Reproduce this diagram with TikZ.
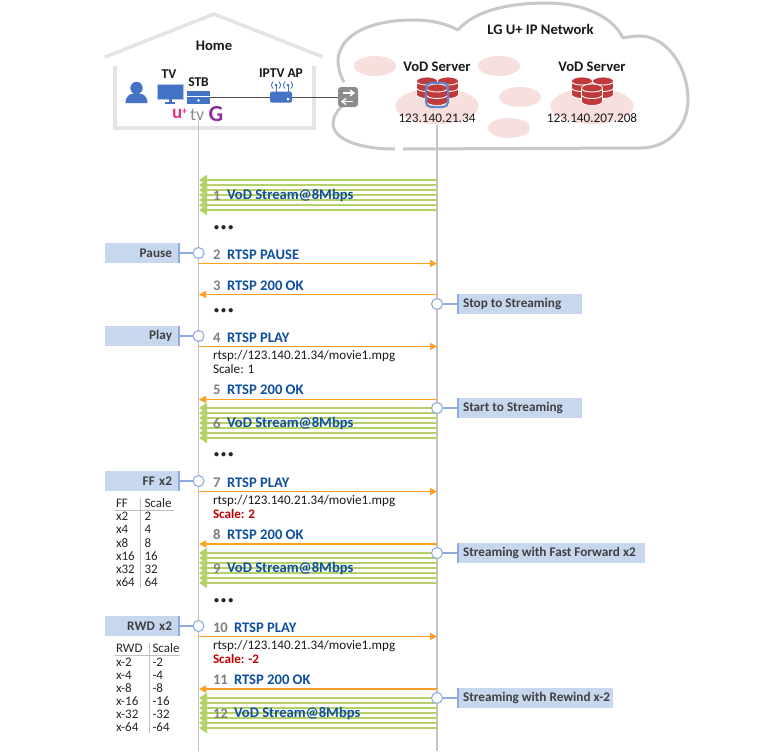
\documentclass[tikz,border=0pt]{standalone}
\usepackage{fontspec}
\setmainfont{Carlito}
\usetikzlibrary{arrows.meta,shapes.geometric}
\definecolor{msgblue}{HTML}{0F4FA0}
\definecolor{numgray}{HTML}{7F7F7F}
\definecolor{orangeline}{HTML}{FF9E1F}
\definecolor{greenline}{HTML}{B3D267}
\definecolor{boxfill}{HTML}{C6D7EE}
\definecolor{boxedge}{HTML}{8FAADC}
\definecolor{iconblue}{HTML}{4472C4}
\definecolor{pinkfill}{HTML}{F6DFDD}
\definecolor{cloudgray}{HTML}{C8C8C8}
\definecolor{housegray}{HTML}{E4E4E4}
\definecolor{dbred}{HTML}{C0393B}
\definecolor{lifegray}{HTML}{C4C4C4}
\definecolor{logopink}{HTML}{E6338A}
\definecolor{logopurple}{HTML}{8A2F9A}
\tikzset{
  every node/.style={inner sep=0pt,outer sep=0pt},
  head/.style={font=\fontsize{14.6}{16}\selectfont\bfseries,text=black!90},
  homehead/.style={font=\fontsize{13.5}{15}\selectfont\bfseries,text=black!90},
  ip/.style={font=\fontsize{13.2}{15}\selectfont,text=black!90},
  num/.style={anchor=west,yshift=-0.8pt,font=\fontsize{14.6}{16}\selectfont\bfseries,text=numgray},
  msg/.style={anchor=west,yshift=-0.8pt,font=\fontsize{14.6}{16}\selectfont\bfseries,text=msgblue},
  subtxt/.style={anchor=west,font=\fontsize{13.1}{15}\selectfont,text=black!90},
  redtxt/.style={anchor=west,font=\fontsize{13.1}{15}\selectfont\bfseries,text=red!75!black},
  tbl/.style={anchor=west,font=\fontsize{13}{15}\selectfont,text=black!85},
  dotrow/.style={anchor=west,font=\fontsize{10}{12}\selectfont\bfseries,text=black!85},
  lblbox/.style={fill=boxfill,minimum height=20.5pt,font=\fontsize{13.2}{15}\selectfont\bfseries,text=black!75},
  ringmark/.style={circle,draw=boxedge,fill=white,line width=1.1pt,minimum size=11pt},
  flow/.style={draw=orangeline,line width=1.5pt,-{Triangle[length=7pt,width=7pt]}},
  stream/.style={draw=greenline,line width=2.7pt,-{Triangle[length=8pt,width=10pt]},shorten >=-1pt},
  tie/.style={draw=boxedge,line width=1.1pt},
  life/.style={draw=lifegray,line width=1.1pt},
  cloudline/.style={draw=cloudgray,line width=3pt},
  houseline/.style={draw=housegray,line width=3.5pt},
  blob/.style={ellipse,fill=pinkfill}
}
% database cylinder: centre x, top y
\newcommand{\dbcyl}[2]{%
  \filldraw[fill=dbred,draw=white,line width=0.8pt] (#1-10.5,#2+4) -- (#1-10.5,#2+17.5) arc[start angle=180,end angle=0,x radius=10.5,y radius=4] -- (#1+10.5,#2+4) arc[start angle=0,end angle=-180,x radius=10.5,y radius=4] -- cycle;
  \draw[white,line width=0.9pt] (#1-10.5,#2+4.5) arc[start angle=180,end angle=0,x radius=10.5,y radius=3.5];
  \draw[white,line width=0.9pt] (#1-10.5,#2+11) arc[start angle=180,end angle=0,x radius=10.5,y radius=3.5];
}
% stream: id, top y
\newcommand{\streamrow}[2]{%
  \foreach \k in {0,...,6}{%
    \coordinate (#1r\k) at (437,#2+5*\k);
    \coordinate (#1l\k) at (200,#2+5*\k);
    \draw[stream] (#1r\k) -- (#1l\k);
  }%
}
\newcommand{\flowrow}[4]{% id, y, direction start, end
  \coordinate (#1a) at (#3,#2);
  \coordinate (#1b) at (#4,#2);
  \draw[flow] (#1a) -- (#1b);
}
\newcommand{\tripledot}{\textbullet\hspace{2.2pt}\textbullet\hspace{2.2pt}\textbullet}
\begin{document}
\begin{tikzpicture}[x=1pt,y=-1pt]
\useasboundingbox (0,0) rectangle (760,753);
\fill[white] (0,0) rectangle (760,753);

% house
\coordinate (roofL) at (105,57); \coordinate (roofT) at (214,14); \coordinate (roofR) at (323,57);
\draw[houseline,line join=miter] (roofL) -- (roofT) -- (roofR);
\coordinate (wallA) at (115,66); \coordinate (wallB) at (115,128); \coordinate (wallC) at (314,128); \coordinate (wallD) at (314,66);
\draw[houseline] (wallA) -- (wallB) -- (wallC) -- (wallD);
\node[homehead,font=\fontsize{14.6}{16}\selectfont\bfseries] (home) at (214,45.5) {Home};

% cloud
\draw[cloudline,line join=round] (403,149) -- (640,148)
  .. controls (670,148) and (688,125) .. (688,100)
  .. controls (688,65) and (665,36) .. (640,36)
  .. controls (633,36) and (628,37) .. (623,38)
  .. controls (610,12) and (575,3) .. (547,3)
  .. controls (510,3) and (475,10) .. (458,30)
  .. controls (445,23) and (430,20) .. (413,20)
  .. controls (375,20) and (340,32) .. (338,60)
  .. controls (338,68) and (340,75) .. (344,82);
\draw[cloudline,line join=round] (342,106)
  .. controls (336,112) and (333,118) .. (333,124)
  .. controls (334,140) and (360,149) .. (395,149);

% pink blobs
\node[blob,minimum width=42pt,minimum height=20pt] (b1) at (375,66) {};
\node[blob,minimum width=42pt,minimum height=20pt] (b2) at (499,66) {};
\node[blob,minimum width=42pt,minimum height=20pt] (b3) at (520,97) {};
\node[blob,minimum width=42pt,minimum height=20pt] (b4) at (509,128) {};
\node[blob,minimum width=83pt,minimum height=36pt] (b5) at (437,106) {};
\node[blob,minimum width=83pt,minimum height=36pt] (b6) at (592,106) {};

% titles in the cloud
\node[head] (net) at (540.5,29.5) {LG U+ IP Network};
\node[head] (vod1) at (437,66.5) {VoD Server};
\node[head] (vod2) at (592,66.5) {VoD Server};
\node[ip] (ip1) at (437,118) {123.140.21.34};
\node[ip] (ip2) at (592,118) {123.140.207.208};

% databases
\dbcyl{427}{77}\dbcyl{448}{77}\dbcyl{437}{84}
\draw[iconblue!85!white,line width=2.2pt,rounded corners=5pt] (426,83) rectangle (448,107);
\dbcyl{582}{77}\dbcyl{603}{77}\dbcyl{592}{84}

% home labels
\node[homehead] (tvl) at (169,74) {TV};
\node[homehead] (stbl) at (198.5,82) {STB};
\node[homehead] (apl) at (281,73) {IPTV AP};

% link STB - AP - switch
\node (stb) at (198.5,97) [minimum width=23pt,minimum height=13pt] {};
\node (ap) at (281,97) [minimum width=22pt,minimum height=11pt] {};
\node (sw) at (348,97) [minimum width=20pt,minimum height=20pt] {};
\draw[black!70,line width=1pt] (stb.east) -- (ap.west);
\draw[black!70,line width=1pt] (ap.east) -- (sw.west);

% person
\fill[iconblue] (136.5,88) circle[radius=6.2];
\fill[iconblue] (125.5,103) .. controls (125.5,96) and (130,94) .. (133,93.5) -- (140,93.5) .. controls (143,94) and (147.5,96) .. (147.5,103) -- cycle;

% TV
\fill[iconblue] (157,84) rectangle (183,99);
\draw[boxedge!70!white,line width=1pt] (157,84) rectangle (183,99);
\fill[iconblue] (168.5,99) rectangle (171.5,102);
\fill[iconblue] (165,102) rectangle (175,103.5);

% STB
\fill[iconblue] (stb.north west) rectangle (stb.south east);
\fill[white] ([yshift=1.2pt]stb.west) rectangle ([yshift=0.2pt]stb.east);
\fill[white] (198.5,100.5) circle[radius=1.3];

% AP
\fill[iconblue,rounded corners=1.5pt] (ap.north west) rectangle (ap.south east);
\fill[white] (288,99) circle[radius=1.5];
\foreach \ax in {276,288}{
  \draw[iconblue,line width=1pt] (\ax,92) -- (\ax,85);
  \fill[iconblue] (\ax,85) circle[radius=1.5];
  \draw[iconblue,line width=0.9pt] (\ax,85) ++(130:4.5) arc[start angle=130,end angle=230,radius=4.5];
  \draw[iconblue,line width=0.9pt] (\ax,85) ++(50:4.5) arc[start angle=50,end angle=-50,radius=4.5];
}

% switch
\fill[black!45,rounded corners=3pt] (sw.north west) rectangle (sw.south east);
\draw[white,line width=1.3pt] (343,93) -- (353,93);
\draw[white,line width=1.3pt] (350,90) -- (354,93) -- (350,96);
\draw[white,line width=1.3pt] (343,101.5) -- (353,101.5);
\draw[white,line width=1.3pt] (346,98.5) -- (342,101.5) -- (346,104.5);

% logo
\node[anchor=west,font=\fontsize{19}{20}\selectfont\bfseries,text=logopink] (logou) at (172,114) {u\raisebox{4pt}{\fontsize{10}{11}\selectfont +}};
\node[anchor=west,font=\fontsize{18}{20}\selectfont,text=black!45] (logotv) at (190,115) {tv};
\node[anchor=west,font=\fontsize{23}{24}\selectfont\bfseries,text=logopurple] (logog) at (208.5,114.5) {G};

% lifelines
\coordinate (stbt) at (198.5,120); \coordinate (stbb) at (198.5,751);
\coordinate (srvt) at (437,125); \coordinate (srvb) at (437,751);
\draw[life] (stbt) -- (stbb);
\draw[life] (srvt) -- (srvb);

% streams
\streamrow{sa}{180}\streamrow{sb}{408}\streamrow{sc}{553}\streamrow{sd}{698}

% messages
\flowrow{m2}{263.5}{198.5}{437}
\flowrow{m3}{294.5}{437}{199}
\flowrow{m4}{346.5}{198.5}{437}
\flowrow{m5}{399.5}{437}{199}
\flowrow{m7}{491.5}{198.5}{437}
\flowrow{m8}{544}{437}{199}
\flowrow{m10}{636.5}{198.5}{437}
\flowrow{m11}{689}{437}{199}

% message texts
\node[num] (n1) at (213,195) {1}; \node[msg] (t1) at (227,195) {VoD Stream@8Mbps};
\node[num] (n2) at (213,254) {2}; \node[msg] (t2) at (227,254) {RTSP PAUSE};
\node[num] (n3) at (213,285) {3}; \node[msg] (t3) at (227,285) {RTSP 200 OK};
\node[num] (n4) at (213,337) {4}; \node[msg] (t4) at (227,337) {RTSP PLAY};
\node[num] (n5) at (213,389) {5}; \node[msg] (t5) at (227,389) {RTSP 200 OK};
\node[num] (n6) at (213,423) {6}; \node[msg] (t6) at (227,423) {VoD Stream@8Mbps};
\node[num] (n7) at (213,482) {7}; \node[msg] (t7) at (227,482) {RTSP PLAY};
\node[num] (n8) at (213,534) {8}; \node[msg] (t8) at (227,534) {RTSP 200 OK};
\node[num] (n9) at (213,568) {9}; \node[msg] (t9) at (227,568) {VoD Stream@8Mbps};
\node[num] (n10) at (213,627) {10}; \node[msg] (t10) at (234,627) {RTSP PLAY};
\node[num] (n11) at (213,679) {11}; \node[msg] (t11) at (234,679) {RTSP 200 OK};
\node[num] (n12) at (213,713) {12}; \node[msg] (t12) at (234,713) {VoD Stream@8Mbps};

\node[subtxt] (u4) at (213,356) {rtsp://123.140.21.34/movie1.mpg};
\node[subtxt] (s4) at (213,368.5) {Scale: 1};
\node[subtxt] (u7) at (213,501) {rtsp://123.140.21.34/movie1.mpg};
\node[redtxt] (s7) at (213,513.5) {Scale: 2};
\node[subtxt] (u10) at (213,646) {rtsp://123.140.21.34/movie1.mpg};
\node[redtxt] (s10) at (213,658.5) {Scale: -2};

\node[dotrow] (d1) at (214,228) {\tripledot};
\node[dotrow] (d2) at (214,311) {\tripledot};
\node[dotrow] (d3) at (214,455) {\tripledot};
\node[dotrow] (d4) at (214,601) {\tripledot};

% left labels: name, y, text
\foreach \nm/\yy/\tx in {pause/253/Pause,play/336/Play,ffx/481/FF x2,rwd/626/RWD x2}{
  \node[lblbox,minimum width=75pt,anchor=east,align=right,text width=59pt,inner xsep=8pt] (\nm) at (180,\yy) {\tx};
  \fill[boxedge] (178,\yy-10.25) rectangle (180,\yy+10.25);
  \node[ringmark] (\nm c) at (198.5,\yy) {};
  \draw[tie] (\nm.east) -- (\nm c.west);
}
% right labels: name, y, width, text
\foreach \nm/\yy/\bw/\tx in {stop/304/125/Stop to Streaming,start/408/125/Start to Streaming,fast/553/188/Streaming with Fast Forward x2,rew/698/156/Streaming with Rewind x-2}{
  \node[lblbox,minimum width=\bw pt,anchor=west,inner xsep=0pt] (\nm) at (457,\yy) {\makebox[\bw pt][l]{\hspace{6pt}\raisebox{-0.8pt}{\tx}}};
  \fill[boxedge] (457,\yy-10.25) rectangle (459,\yy+10.25);
  \node[ringmark] (\nm c) at (437,\yy) {};
  \draw[tie] (\nm c.east) -- (\nm.west);
}

% FF table
\coordinate (ftA) at (115,510.5); \coordinate (ftB) at (174,510.5);
\coordinate (ftC) at (140.5,498); \coordinate (ftD) at (140.5,588);
\draw[black!25,line width=0.7pt] (ftA) -- (ftB);
\draw[black!25,line width=0.7pt] (ftC) -- (ftD);
\node[tbl] (ffh) at (116,503) {FF}; \node[tbl] (ffs) at (144.5,503) {Scale};
\foreach \a/\b/\yy in {x2/2/516,x4/4/529,x8/8/543,x16/16/556,x32/32/569,x64/64/582}{
  \node[tbl] (fa\a) at (116,\yy) {\a}; \node[tbl] (fb\a) at (144.5,\yy) {\b};
}
% RWD table
\coordinate (rtA) at (115,655.5); \coordinate (rtB) at (180,655.5);
\coordinate (rtC) at (149,643); \coordinate (rtD) at (149,733);
\draw[black!25,line width=0.7pt] (rtA) -- (rtB);
\draw[black!25,line width=0.7pt] (rtC) -- (rtD);
\node[tbl] (rwh) at (116,648) {RWD}; \node[tbl] (rws) at (152.5,648) {Scale};
\foreach \a/\b/\yy in {x-2/-2/662,x-4/-4/675,x-8/-8/688,x-16/-16/701,x-32/-32/714,x-64/-64/727}{
  \node[tbl] (ra\a) at (116,\yy) {\a}; \node[tbl] (rb\a) at (152.5,\yy) {\b};
}
\end{tikzpicture}
\end{document}
